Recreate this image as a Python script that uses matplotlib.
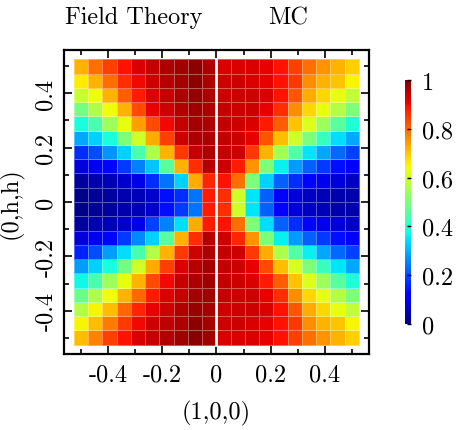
import numpy as np
import matplotlib
matplotlib.use("Agg")
import matplotlib.pyplot as plt
from matplotlib.ticker import MultipleLocator

plt.rcParams["font.family"] = "serif"
plt.rcParams["font.serif"] = ["cmr10"]
plt.rcParams["mathtext.fontset"] = "cm"
plt.rcParams["axes.unicode_minus"] = False

# Field theory, rows listed top (h=+0.5) to bottom, columns from (1,0,0)=-0.5 to 0
field_theory = [
    [0.72, 0.79, 0.84, 0.89, 0.92, 0.94, 0.96, 0.97, 0.985, 0.96],
    [0.66, 0.72, 0.79, 0.86, 0.90, 0.93, 0.95, 0.965, 0.985, 0.96],
    [0.59, 0.64, 0.72, 0.81, 0.88, 0.92, 0.94, 0.96, 0.98, 0.96],
    [0.49, 0.56, 0.64, 0.72, 0.83, 0.91, 0.93, 0.955, 0.97, 0.96],
    [0.38, 0.44, 0.54, 0.63, 0.74, 0.83, 0.90, 0.94, 0.965, 0.96],
    [0.29, 0.33, 0.38, 0.50, 0.60, 0.73, 0.84, 0.93, 0.96, 0.96],
    [0.17, 0.20, 0.27, 0.33, 0.44, 0.56, 0.72, 0.85, 0.94, 0.96],
    [0.08, 0.10, 0.13, 0.18, 0.25, 0.32, 0.46, 0.72, 0.86, 0.95],
    [0.03, 0.04, 0.05, 0.07, 0.09, 0.17, 0.24, 0.33, 0.73, 0.87],
    [0.01, 0.02, 0.03, 0.04, 0.05, 0.07, 0.14, 0.17, 0.24, 0.88],
    [0.01, 0.02, 0.03, 0.04, 0.05, 0.07, 0.14, 0.18, 0.24, 0.88],
    [0.03, 0.04, 0.05, 0.07, 0.09, 0.19, 0.25, 0.34, 0.73, 0.88],
    [0.08, 0.10, 0.13, 0.18, 0.26, 0.33, 0.46, 0.72, 0.86, 0.95],
    [0.16, 0.20, 0.28, 0.34, 0.44, 0.57, 0.72, 0.85, 0.93, 0.96],
    [0.28, 0.33, 0.38, 0.49, 0.60, 0.73, 0.84, 0.92, 0.95, 0.965],
    [0.37, 0.44, 0.54, 0.63, 0.72, 0.83, 0.90, 0.94, 0.96, 0.97],
    [0.48, 0.56, 0.64, 0.72, 0.80, 0.88, 0.92, 0.94, 0.965, 0.97],
    [0.57, 0.65, 0.71, 0.80, 0.87, 0.91, 0.93, 0.955, 0.975, 0.965],
    [0.65, 0.71, 0.78, 0.85, 0.90, 0.93, 0.945, 0.96, 0.985, 0.965],
    [0.71, 0.77, 0.84, 0.89, 0.92, 0.94, 0.955, 0.97, 0.99, 0.97],
]

# Monte Carlo, rows top to bottom, columns from 0 to +0.5
monte_carlo = [
    [0.92, 0.92, 0.92, 0.91, 0.89, 0.84, 0.79, 0.75, 0.72, 0.69],
    [0.93, 0.93, 0.92, 0.91, 0.89, 0.85, 0.76, 0.72, 0.70, 0.65],
    [0.93, 0.93, 0.93, 0.92, 0.89, 0.82, 0.73, 0.68, 0.63, 0.58],
    [0.94, 0.93, 0.93, 0.91, 0.86, 0.76, 0.68, 0.63, 0.57, 0.50],
    [0.94, 0.93, 0.92, 0.88, 0.81, 0.70, 0.62, 0.54, 0.46, 0.39],
    [0.94, 0.93, 0.91, 0.82, 0.71, 0.60, 0.50, 0.42, 0.34, 0.29],
    [0.94, 0.93, 0.85, 0.72, 0.55, 0.45, 0.35, 0.29, 0.23, 0.19],
    [0.93, 0.88, 0.75, 0.50, 0.36, 0.28, 0.22, 0.18, 0.14, 0.11],
    [0.89, 0.79, 0.50, 0.33, 0.22, 0.17, 0.13, 0.10, 0.08, 0.06],
    [0.86, 0.60, 0.35, 0.22, 0.11, 0.08, 0.06, 0.05, 0.04, 0.04],
    [0.86, 0.60, 0.35, 0.22, 0.11, 0.08, 0.06, 0.05, 0.04, 0.04],
    [0.89, 0.79, 0.50, 0.34, 0.22, 0.17, 0.13, 0.10, 0.08, 0.06],
    [0.93, 0.87, 0.75, 0.50, 0.36, 0.28, 0.22, 0.18, 0.14, 0.11],
    [0.94, 0.93, 0.85, 0.73, 0.56, 0.45, 0.36, 0.29, 0.23, 0.19],
    [0.94, 0.93, 0.91, 0.83, 0.71, 0.61, 0.50, 0.42, 0.35, 0.29],
    [0.94, 0.93, 0.92, 0.88, 0.81, 0.70, 0.62, 0.54, 0.46, 0.39],
    [0.94, 0.93, 0.93, 0.91, 0.86, 0.76, 0.68, 0.63, 0.57, 0.50],
    [0.93, 0.93, 0.93, 0.92, 0.89, 0.82, 0.73, 0.68, 0.63, 0.58],
    [0.93, 0.93, 0.92, 0.91, 0.89, 0.85, 0.76, 0.72, 0.70, 0.65],
    [0.92, 0.92, 0.92, 0.91, 0.89, 0.84, 0.79, 0.75, 0.72, 0.69],
]

tick_vals = [-0.4, -0.2, 0, 0.2, 0.4]
tick_labels = ["-0.4", "-0.2", "0", "0.2", "0.4"]
cbar_ticks = [0, 0.2, 0.4, 0.6, 0.8, 1]
cbar_labels = ["0", "0.2", "0.4", "0.6", "0.8", "1"]

fs = 17.5

# cell edges
x_left = np.linspace(-0.525, 0, 11)
x_right = np.linspace(0, 0.525, 11)
y_edges = np.linspace(-0.525, 0.525, 21)

fig = plt.figure(figsize=(4.6, 4.31), dpi=100)
ax = fig.add_axes([0.139, 0.176, 0.663, 0.706])

ft = np.array(field_theory)[::-1]
mc = np.array(monte_carlo)[::-1]
mesh_kw = dict(cmap="jet", vmin=0, vmax=1, edgecolors=(1, 1, 1, 0.35), linewidth=0.6)
m = ax.pcolormesh(x_left, y_edges, ft, **mesh_kw)
ax.pcolormesh(x_right, y_edges, mc, **mesh_kw)
ax.plot([0, 0], [-0.525, 0.525], color="white", lw=2)

ax.set_xlim(-0.562, 0.562)
ax.set_ylim(-0.56, 0.56)
ax.set_xticks(tick_vals)
ax.set_xticklabels(tick_labels)
ax.set_yticks(tick_vals)
ax.set_yticklabels(tick_labels, rotation=90, va="center")
ax.xaxis.set_minor_locator(MultipleLocator(0.1))
ax.yaxis.set_minor_locator(MultipleLocator(0.1))
ax.tick_params(which="both", direction="in", top=True, right=True, width=1.2, labelsize=fs)
ax.tick_params(which="major", length=6)
ax.tick_params(which="minor", length=3.5)
ax.tick_params(axis="x", pad=7)
ax.tick_params(axis="y", pad=5)
for s in ax.spines.values():
    s.set_linewidth(1.6)

ax.set_xlabel("(1,0,0)", fontsize=fs, labelpad=10)
ax.set_ylabel("(0,h,h)", fontsize=fs, labelpad=8)

fig.text(0.141, 0.958, "Field Theory", fontsize=fs, va="center", ha="left")
fig.text(0.582, 0.958, "MC", fontsize=fs, va="center", ha="left")

cax = fig.add_axes([0.880, 0.246, 0.013, 0.566])
cb = fig.colorbar(m, cax=cax)
cb.outline.set_visible(False)
cb.set_ticks(cbar_ticks)
cb.set_ticklabels(cbar_labels)
cax.tick_params(direction="in", length=3, width=1, labelsize=fs, pad=8)

fig.savefig("out.png", dpi=100)
